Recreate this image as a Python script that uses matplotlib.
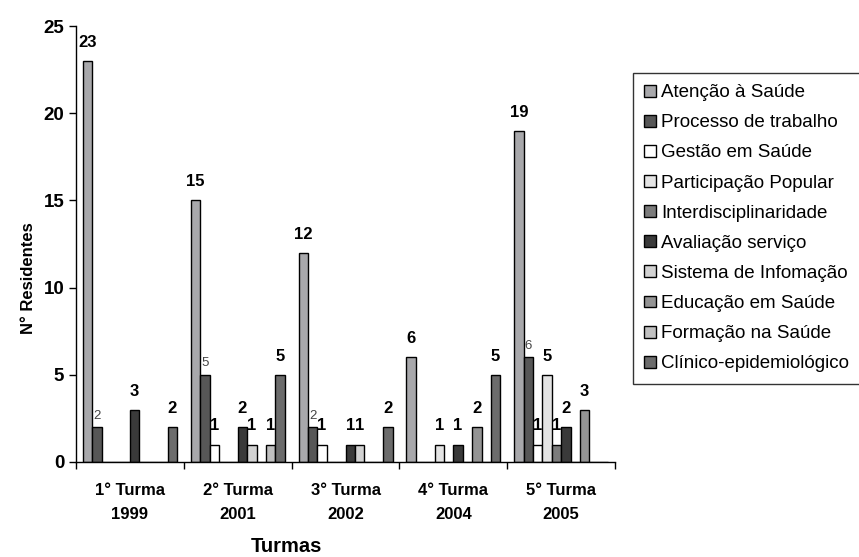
import matplotlib
matplotlib.use("Agg")
from matplotlib import pyplot as plt
import numpy as np

plt.rcParams['font.family'] = ['Liberation Sans', 'DejaVu Sans']

turmas = ["1° Turma\n1999", "2° Turma\n2001", "3° Turma\n2002", "4° Turma\n2004", "5° Turma\n2005"]
temas = ["Atenção à Saúde", "Processo de trabalho", "Gestão em Saúde", "Participação Popular",
         "Interdisciplinaridade", "Avaliação serviço", "Sistema de Infomação",
         "Educação em Saúde", "Formação na Saúde", "Clínico-epidemiológico"]
cores = ["#a8a8ab", "#575757", "#ffffff", "#e4e4e4", "#7c7c7c",
         "#3a3a3a", "#d2d2d2", "#949494", "#c0c0c0", "#6c6c6c"]

# linhas = temas, colunas = turmas
atencao = [23, 15, 12, 6, 19]
processo = [2, 5, 2, 0, 6]
gestao = [0, 1, 1, 0, 1]
participacao = [0, 0, 0, 1, 5]
interdisc = [0, 0, 0, 0, 1]
avaliacao = [3, 2, 1, 1, 2]
sistema = [0, 1, 1, 0, 0]
educacao = [0, 0, 0, 2, 3]
formacao = [0, 1, 0, 0, 0]
clinico = [2, 5, 2, 5, 0]
valores = [atencao, processo, gestao, participacao, interdisc,
           avaliacao, sistema, educacao, formacao, clinico]

fig = plt.figure(figsize=(8.59, 5.57), dpi=100)
ax = fig.add_axes([0.0885, 0.1706, 0.6275, 0.7827])

x = np.arange(len(turmas))
w = 0.0872
n = len(temas)
for i, (tema, cor, vals) in enumerate(zip(temas, cores, valores)):
    pos = x + (i - (n - 1) / 2) * w
    ax.bar(pos, vals, width=w, color=cor, edgecolor="black", linewidth=1.0,
           label=tema, zorder=2)
    for p, v in zip(pos, vals):
        if v == 0:
            continue
        if i == 1:
            ax.annotate(str(v), (p, v), xytext=(0, 4), textcoords="offset points",
                        ha="center", va="bottom", fontsize=9.5, color="#444444",
                        zorder=1.5)
        else:
            ax.annotate(str(v), (p, v), xytext=(0, 8), textcoords="offset points",
                        ha="center", va="bottom", fontsize=12, fontweight="bold",
                        zorder=3)

ax.set_xlim(-0.5, 4.5)
ax.set_ylim(0, 25)
ax.set_yticks([0, 5, 10, 15, 20, 25])
ax.set_xticks(x)
ax.set_xticklabels(turmas, fontsize=12, fontweight="bold", linespacing=1.75)
ax.set_xticks(np.arange(-0.5, 5, 1), minor=True)
ax.tick_params(axis="x", which="major", length=0, pad=15)
ax.tick_params(axis="x", which="minor", length=5, width=1, direction="out")
ax.tick_params(axis="y", length=5, width=1, direction="out", labelsize=13.5)
for lab in ax.get_yticklabels():
    lab.set_fontweight("bold")

for s in ["top", "right"]:
    ax.spines[s].set_visible(False)
for s in ["left", "bottom"]:
    ax.spines[s].set_linewidth(1.0)

ax.set_xlabel("Turmas", fontsize=14.5, fontweight="bold")
ax.xaxis.set_label_coords(0.39, -0.172)
ax.set_ylabel("N° Residentes", fontsize=12, fontweight="bold")
ax.yaxis.set_label_coords(-0.074, 0.422)

leg = ax.legend(loc="upper left", bbox_to_anchor=(0.737, 0.869),
                bbox_transform=fig.transFigure, fontsize=13.5, frameon=True,
                fancybox=False, edgecolor="black", borderaxespad=0,
                handlelength=0.6, handleheight=0.6, handletextpad=0.3,
                labelspacing=0.7, borderpad=0.6)
leg.get_frame().set_linewidth(1.0)

fig.savefig("out.png", dpi=100)
